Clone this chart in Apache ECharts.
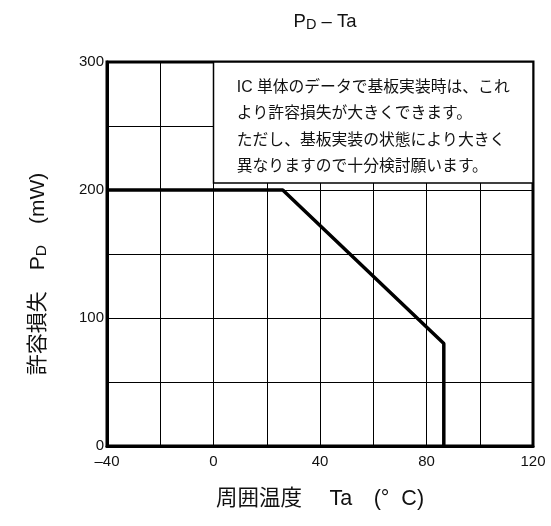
<!DOCTYPE html>
<html>
<head>
<meta charset="utf-8">
<script src="https://cdn.jsdelivr.net/npm/echarts@6/dist/echarts.min.js"></script>
<style>
html, body { margin: 0; padding: 0; background: #fff; }
#graph { width: 551px; height: 526px; }
</style>
</head>
<body>
<div id="graph"></div>
<script>
// 許容損失カーブ (Ta, PD)
var tempX = [-40, 26, 86.5, 86.5];
var powerY = [200, 200, 80, 0];

// 目盛ラベルを出す間隔
var xLabelStep = 40;
var yLabelStep = 100;

// 注記ボックスの範囲 (データ座標)
var noteX = [0, 120];
var noteY = [205.5, 300];
var noteLines = [
    'IC 単体のデータで基板実装時は、これ',
    'より許容損失が大きくできます。',
    'ただし、基板実装の状態により大きく',
    '異なりますので十分検討願います。'
];

var font = "'Liberation Sans', 'Noto Sans CJK JP', sans-serif";
var ink = '#111';

var curve = [];
for (var i = 0; i < tempX.length; i++) {
    curve.push([tempX[i], powerY[i]]);
}

var myChart = echarts.init(document.getElementById('graph'));

option = {
    animation: false,
    textStyle: { fontFamily: font, color: ink },
    title: {
        text: 'P{sub|D} – Ta',
        left: 320,
        top: 7,
        textAlign: 'center',
        textStyle: {
            fontFamily: font,
            fontSize: 18.5,
            fontWeight: 'normal',
            color: ink,
            rich: {
                sub: { fontFamily: font, fontSize: 14.5, color: ink, verticalAlign: 'bottom', padding: [6, 0, 0, 0] }
            }
        }
    },
    grid: {
        left: 107,
        right: 18,
        top: 62,
        bottom: 80,
        show: true,
        borderColor: '#000',
        borderWidth: 3
    },
    xAxis: {
        type: 'value',
        min: -40,
        max: 120,
        interval: 20,
        name: '周囲温度　 Ta　(°  C)',
        nameLocation: 'middle',
        nameGap: 42,
        nameTextStyle: { fontFamily: font, fontSize: 21.5, color: ink },
        axisLine: { show: true, onZero: false, lineStyle: { color: '#000', width: 3 } },
        axisTick: { show: false },
        axisLabel: {
            margin: 8,
            fontFamily: font,
            fontSize: 15,
            color: ink,
            formatter: function (v) {
                if (v % xLabelStep !== 0) return '';
                return String(v).replace('-', '–');
            }
        },
        splitLine: { show: true, lineStyle: { color: '#000', width: 1 } }
    },
    yAxis: {
        type: 'value',
        min: 0,
        max: 300,
        interval: 50,
        name: '許容損失　P{sub|D}　(mW)',
        nameLocation: 'middle',
        nameGap: 58,
        nameRotate: 90,
        nameTextStyle: {
            fontFamily: font,
            fontSize: 21,
            color: ink,
            padding: [0, 40, 0, 0],
            rich: {
                sub: { fontFamily: font, fontSize: 15.5, color: ink, verticalAlign: 'bottom', padding: [7, 0, 0, 0] }
            }
        },
        axisLine: { show: true, onZero: false, lineStyle: { color: '#000', width: 3 } },
        axisTick: { show: false },
        axisLabel: {
            margin: 3,
            fontFamily: font,
            fontSize: 15,
            color: ink,
            formatter: function (v) {
                return v % yLabelStep === 0 ? String(v) : '';
            }
        },
        splitLine: { show: true, lineStyle: { color: '#000', width: 1 } }
    },
    series: [
        {
            type: 'line',
            data: curve,
            symbol: 'none',
            lineStyle: { color: '#000', width: 3.5 },
            z: 3,
            markArea: {
                silent: true,
                itemStyle: { color: '#fff', borderColor: '#000', borderWidth: 1.5 },
                label: {
                    show: true,
                    position: 'insideTopLeft',
                    distance: 0,
                    padding: [13, 0, 0, 24],
                    fontFamily: font,
                    fontSize: 15.8,
                    lineHeight: 26.5,
                    color: ink,
                    formatter: noteLines.join('\n')
                },
                data: [[
                    { xAxis: noteX[0], yAxis: noteY[0] },
                    { xAxis: noteX[1], yAxis: noteY[1] }
                ]]
            }
        }
    ]
};

// 使用刚指定的配置项和数据显示图表。
myChart.setOption(option);
</script>
</body>
</html>
